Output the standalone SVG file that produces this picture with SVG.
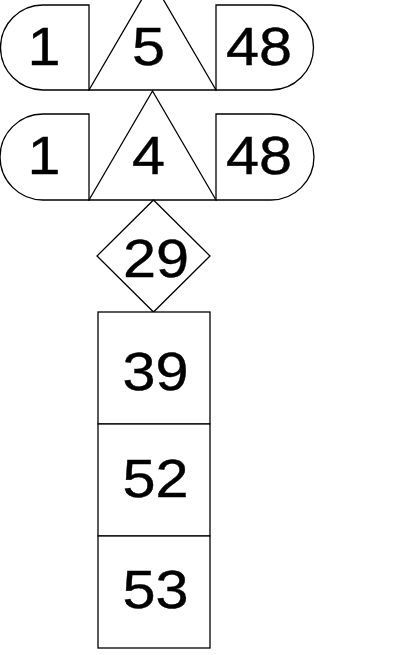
<svg xmlns="http://www.w3.org/2000/svg" width="394" height="655" viewBox="0 0 394 655">
<style>
.s{fill:#fff;stroke:#000;stroke-width:1.3}
.t{font-family:"Liberation Sans",Arial,sans-serif;font-size:54px;text-anchor:middle;fill:#000;stroke:#000;stroke-width:0.4}
</style>
<rect width="394" height="655" fill="#fff"/>
<g id="n1a"><path class="s" d="M89 5 L43 5 A42.5 42.5 0 0 0 43 90 L89 90 Z"/><text class="t" transform="translate(44 65) scale(1.1 1)">1</text></g>
<g id="n5"><path class="s" d="M89 90 L152.5 -19 L216 90 Z"/><text class="t" transform="translate(148.5 65) scale(1.1 1)">5</text></g>
<g id="n48a"><path class="s" d="M216 5 L271 5 A42.5 42.5 0 0 1 271 90 L216 90 Z"/><text class="t" transform="translate(259 65) scale(1.1 1)">48</text></g>
<g id="n1b"><path class="s" d="M89 114 L43 114 A43 43 0 0 0 43 200 L89 200 Z"/><text class="t" transform="translate(44 174) scale(1.1 1)">1</text></g>
<g id="n4"><path class="s" d="M89 200 L152.5 91 L216 200 Z"/><text class="t" transform="translate(148.5 174) scale(1.1 1)">4</text></g>
<g id="n48b"><path class="s" d="M216 114 L271 114 A43 43 0 0 1 271 200 L216 200 Z"/><text class="t" transform="translate(259 174) scale(1.1 1)">48</text></g>
<g id="n29"><path class="s" d="M153.5 200 L210 256 L153.5 312 L97 256 Z"/><text class="t" transform="translate(156 277) scale(1.1 1)">29</text></g>
<g id="n39"><rect class="s" x="98" y="312" width="112" height="112"/><text class="t" transform="translate(155.5 390) scale(1.1 1)">39</text></g>
<g id="n52"><rect class="s" x="98" y="424" width="112" height="112"/><text class="t" transform="translate(155.5 497) scale(1.1 1)">52</text></g>
<g id="n53"><rect class="s" x="98" y="536" width="112" height="112"/><text class="t" transform="translate(155.5 608) scale(1.1 1)">53</text></g>
<g id="connectors"></g>
</svg>
